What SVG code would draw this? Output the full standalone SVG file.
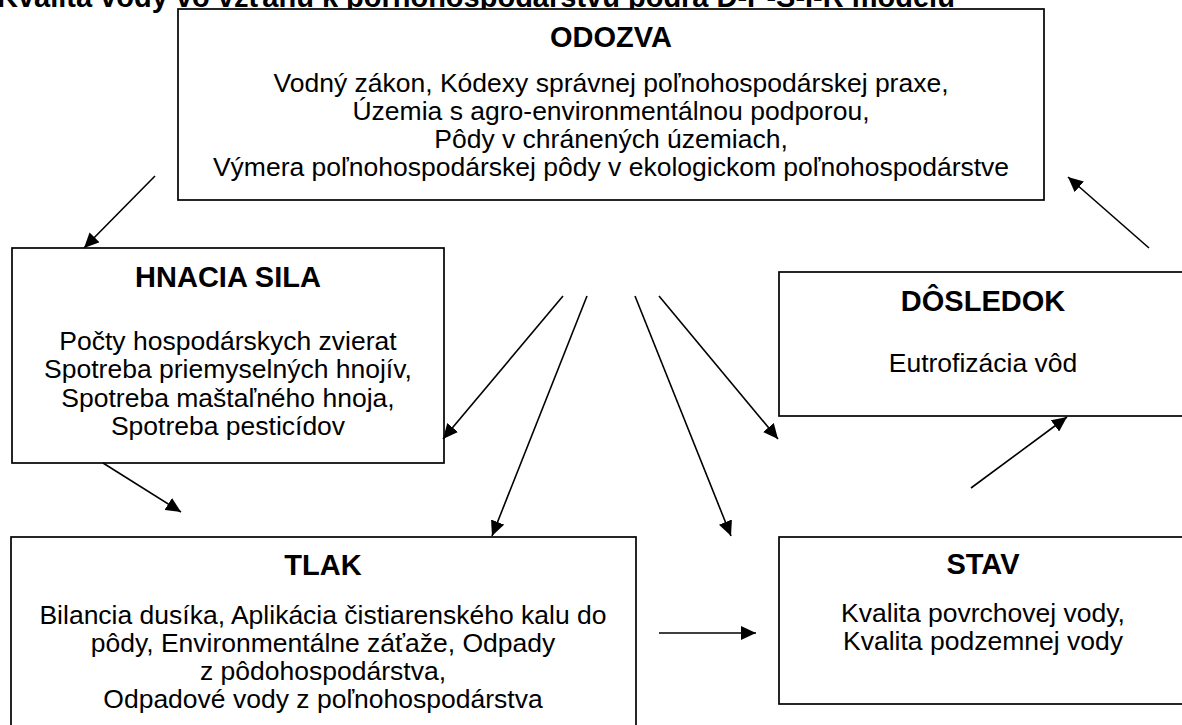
<svg xmlns="http://www.w3.org/2000/svg" width="1182" height="725" viewBox="0 0 1182 725">
<style>
text{font-family:"Liberation Sans",Arial,sans-serif;fill:#000;text-anchor:middle}
.h{font-weight:bold;font-size:29px}
.b{font-size:26.5px}
.box{fill:#fff;stroke:#000;stroke-width:1.7}
.ln{stroke:#000;stroke-width:1.6;fill:none}
</style>
<defs>
<marker id="ah" markerUnits="userSpaceOnUse" markerWidth="16" markerHeight="14" refX="15" refY="7" orient="auto">
<path d="M0,0 L15,7 L0,14 z" fill="#000"/>
</marker>
</defs>
<rect width="1182" height="725" fill="#fff"/>
<text class="h" x="-3" y="7" style="text-anchor:start">Kvalita vody vo vzťahu k poľnohospodárstvu podľa D-P-S-I-R modelu</text>
<g id="odozva">
<rect class="box" x="178" y="9" width="866" height="191"/>
<text class="h" x="611" y="47">ODOZVA</text>
<text class="b" x="611" y="92">Vodný zákon, Kódexy správnej poľnohospodárskej praxe,</text>
<text class="b" x="611" y="120">Územia s agro-environmentálnou podporou,</text>
<text class="b" x="611" y="148">Pôdy v chránených územiach,</text>
<text class="b" x="611" y="176">Výmera poľnohospodárskej pôdy v ekologickom poľnohospodárstve</text>
</g>
<g id="hnacia">
<rect class="box" x="12" y="248" width="432" height="215"/>
<text class="h" x="228" y="287">HNACIA SILA</text>
<text class="b" x="228" y="350">Počty hospodárskych zvierat</text>
<text class="b" x="228" y="378">Spotreba priemyselných hnojív,</text>
<text class="b" x="228" y="407">Spotreba maštaľného hnoja,</text>
<text class="b" x="228" y="435">Spotreba pesticídov</text>
</g>
<g id="dosledok">
<rect class="box" x="779" y="272" width="408" height="144"/>
<text class="h" x="983" y="311">DÔSLEDOK</text>
<text class="b" x="983" y="372">Eutrofizácia vôd</text>
</g>
<g id="tlak">
<rect class="box" x="11" y="537" width="625" height="200"/>
<text class="h" x="323" y="575">TLAK</text>
<text class="b" x="323" y="624">Bilancia dusíka, Aplikácia čistiarenského kalu do</text>
<text class="b" x="323" y="652">pôdy, Environmentálne záťaže, Odpady</text>
<text class="b" x="323" y="680">z pôdohospodárstva,</text>
<text class="b" x="323" y="708">Odpadové vody z poľnohospodárstva</text>
</g>
<g id="stav">
<rect class="box" x="779" y="537" width="408" height="167"/>
<text class="h" x="983" y="574">STAV</text>
<text class="b" x="983" y="622">Kvalita povrchovej vody,</text>
<text class="b" x="983" y="650">Kvalita podzemnej vody</text>
</g>
<g id="connectors">
<line class="ln" x1="155" y1="176" x2="84" y2="248" marker-end="url(#ah)"/>
<line class="ln" x1="103" y1="463" x2="181" y2="512" marker-end="url(#ah)"/>
<line class="ln" x1="563" y1="296" x2="443" y2="439" marker-end="url(#ah)"/>
<line class="ln" x1="587" y1="296" x2="492" y2="536" marker-end="url(#ah)"/>
<line class="ln" x1="635" y1="296" x2="731" y2="536" marker-end="url(#ah)"/>
<line class="ln" x1="659" y1="296" x2="778" y2="439" marker-end="url(#ah)"/>
<line class="ln" x1="659" y1="633" x2="756" y2="633" marker-end="url(#ah)"/>
<line class="ln" x1="971" y1="488" x2="1067" y2="417" marker-end="url(#ah)"/>
<line class="ln" x1="1149" y1="248" x2="1068" y2="177" marker-end="url(#ah)"/>
</g>
</svg>
